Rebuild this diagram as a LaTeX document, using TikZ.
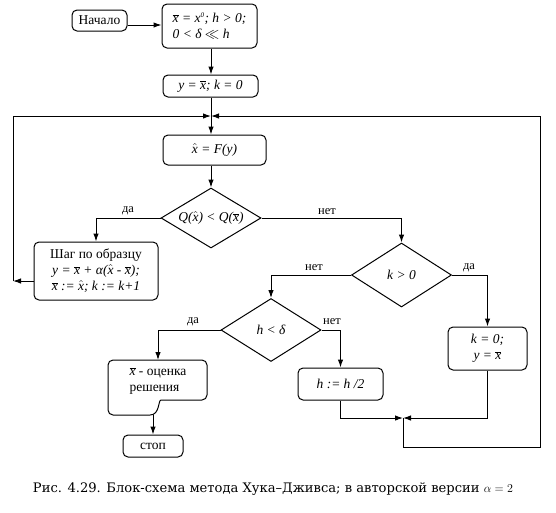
\documentclass[tikz,border=0pt]{standalone}
\usepackage{fontspec}
\setmainfont{Liberation Serif}
\newfontfamily\capfont{DejaVu Serif}
\usetikzlibrary{shapes.geometric,arrows.meta}
\newcommand\xb{\ensuremath{\overline{\mbox{\itshape x}}}}
\newcommand\xh{\ensuremath{\hat{\mbox{\itshape x}}}}
\begin{document}
\begin{tikzpicture}[x=1pt,y=-1pt,
  font=\rmfamily\fontsize{13.5}{16}\selectfont,
  box/.style={draw, rounded corners=5pt, line width=1pt, inner sep=1pt},
  dia/.style={draw, diamond, inner sep=0pt, line width=1pt, minimum width=100pt, minimum height=62pt},
  arr/.style={-{Latex[length=8pt,width=5.5pt]}, line width=1pt},
  ln/.style={line width=1pt},
  lab/.style={font=\rmfamily\fontsize{12.5}{14}\selectfont}]
\useasboundingbox (0,0) rectangle (556,512);

% boxes
\node[box, minimum width=55pt, minimum height=21pt] (start) at (99.5,20.5) {Начало};
\node[box, minimum width=95pt, minimum height=44pt, align=left,
      font=\rmfamily\itshape\fontsize{13.5}{16}\selectfont] (init) at (209.5,26)
      {\xb{} = \textit{x}\textsuperscript{\scriptsize 0}; \textit{h} > 0;\\ 0 < δ $\ll$ \textit{h}};
\node[box, minimum width=95pt, minimum height=22pt] (yx) at (210.5,86) {\itshape y = \xb; k = 0};
\coordinate (J1) at (211,116);
\node[box, minimum width=103pt, minimum height=30pt] (F) at (214.5,150) {\itshape \xh{} = F(y)};
\node[dia, minimum height=60pt] (Q) at (211,218) {\makebox[0pt]{\itshape Q(\xh) < Q(\xb)}};
\node[box, minimum width=124pt, minimum height=58pt, align=center] (sh) at (96,271)
      {Шаг по образцу\\ \itshape y = \xb{} + α(\xh{} - \xb);\\ \itshape \xb{} := \xh; k := k+1};
\node[dia, minimum height=64pt] (kp) at (401.5,275) {\makebox[0pt]{\itshape k > 0}};
\node[dia, minimum height=63pt] (hd) at (271,330) {\makebox[0pt]{\itshape h < δ}};
\node[box, minimum width=79pt, minimum height=43pt, align=center] (k0) at (487.5,348.5)
      {\itshape k = 0;\\ \itshape y = \xb};
\node[box, minimum width=85pt, minimum height=32pt] (h2) at (340.5,384) {\itshape h := h /2};

% document-shaped result
\draw[ln, rounded corners=5pt] (108,390) |- (207,360) |- (166,400) [sharp corners]
  .. controls (158,400) and (160,415) .. (150,415) [rounded corners=5pt] -| (108,390);
\node[align=left, inner sep=0pt] (doc) at (158,381) {\xb{} - оценка\\решения};
\coordinate (doct) at (158,360);
\coordinate (docb) at (153,415);
\node[box, minimum width=60pt, minimum height=22pt] (stop) at (153,446) {стоп};

% connectors
\draw[arr] ([yshift=-4.5pt]start.east) -- ([yshift=-4.5pt]start.east -| init.west);
\draw[arr] (init.south -| J1) -- (yx.north -| J1);
\draw[ln] (yx.south -| J1) -- (J1);
\draw[arr] (J1) -- (F.north -| J1);
\draw[arr] (F.south -| J1) -- (Q.north);
\draw[arr] (Q.west) -| (sh.north);
\node[lab] (l1) at (128,211) {да};
\draw[arr] (Q.east) -| (kp.north);
\node[lab] (l2) at (327,212) {нет};
\coordinate (Lb) at (13,281);
\draw[arr] (sh.west |- Lb) -- (Lb);
\draw[arr] (Lb) |- (J1);
\draw[arr] (kp.west) -| (hd.north);
\node[lab] (l3) at (314,268) {нет};
\draw[arr] (kp.east) -| (k0.north);
\node[lab] (l4) at (469,268) {да};
\draw[arr] (hd.west) -| (doct);
\node[lab] (l5) at (193,322) {да};
\draw[arr] (hd.east) -| (h2.north);
\node[lab] (l6) at (332,322) {нет};
\coordinate (J2) at (403,418);
\draw[arr] (h2.south) |- (J2);
\draw[arr] (k0.south) |- (J2);
\coordinate (Rb) at (540,447);
\draw[arr] (J2) |- (Rb) |- (J1);
\draw[arr] (docb) -- (stop.north);

% caption
\node[font=\capfont\fontsize{13.1}{15}\selectfont, inner sep=0pt] (cap) at (273,489)
  {Рис. 4.29. Блок-схема метода Хука–Дживса; в авторской версии $\alpha = 2$};
\end{tikzpicture}
\end{document}
